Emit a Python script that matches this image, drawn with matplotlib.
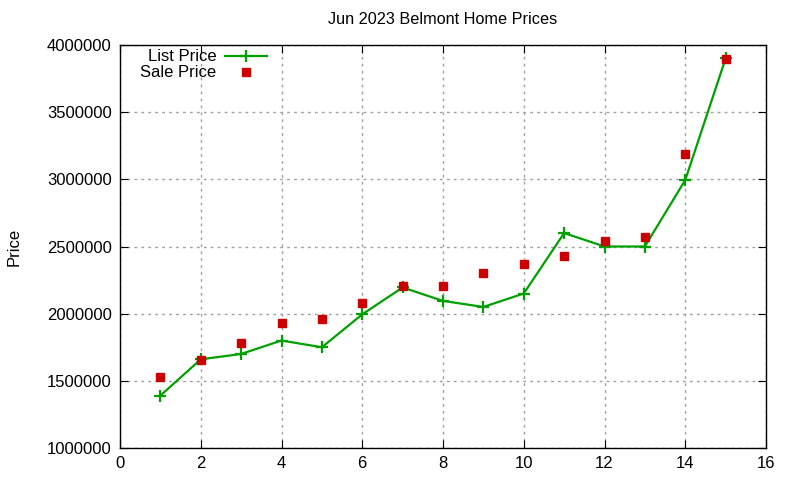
import matplotlib
matplotlib.use('Agg')
import matplotlib.pyplot as plt
from matplotlib.lines import Line2D

plt.rcParams['font.family'] = ['Liberation Sans', 'DejaVu Sans']

# house index and prices
homes = [1, 2, 3, 4, 5, 6, 7, 8, 9, 10, 11, 12, 13, 14, 15]
list_price = [1390000, 1660000, 1700000, 1800000, 1750000, 1995000, 2195000, 2095000,
              2050000, 2150000, 2600000, 2500000, 2500000, 2995000, 3900000]
sale_price = [1530000, 1655000, 1780000, 1930000, 1960000, 2080000, 2205000, 2205000,
              2300000, 2370000, 2430000, 2540000, 2570000, 3190000, 3895000]
x_ticks = [0, 2, 4, 6, 8, 10, 12, 14, 16]
y_ticks = [1000000, 1500000, 2000000, 2500000, 3000000, 3500000, 4000000]

green = '#00a000'
red = '#cc0000'
fs = 12

fig = plt.figure(figsize=(8, 4.8), dpi=100)
ax = fig.add_axes([120/800, 32/480, 646/800, 403/480])

ax.plot(homes, list_price, color=green, lw=1.6, marker='+', ms=8, mew=1.6)
ax.plot(homes, sale_price, ls='none', marker='s', ms=6, color=red)

ax.set_xlim(0, 16)
ax.set_ylim(1000000, 4000000)
ax.set_xticks(x_ticks)
ax.set_yticks(y_ticks)
ax.set_yticklabels([str(v) for v in y_ticks])

ax.grid(True, color='#a0a0a0', ls=(0, (2, 3)), lw=1)
ax.tick_params(direction='in', top=True, right=True, length=6, labelsize=fs, pad=6)
for s in ax.spines.values():
    s.set_linewidth(1)

ax.set_title('Jun 2023 Belmont Home Prices', fontsize=11.7, pad=15)
ax.set_ylabel('Price', fontsize=fs, labelpad=18)

# gnuplot-style key, text right-aligned
ax.text(0.149, 0.972, 'List Price', transform=ax.transAxes, ha='right', va='center', fontsize=fs)
ax.text(0.149, 0.933, 'Sale Price', transform=ax.transAxes, ha='right', va='center', fontsize=fs)
ax.add_line(Line2D([0.163, 0.228], [0.972, 0.972], transform=ax.transAxes, color=green, lw=1.6))
ax.add_line(Line2D([0.195], [0.972], transform=ax.transAxes, color=green, marker='+', ms=8, mew=1.6))
ax.add_line(Line2D([0.195], [0.933], transform=ax.transAxes, color=red, marker='s', ms=6, ls='none'))

fig.savefig('out.png', dpi=100)
